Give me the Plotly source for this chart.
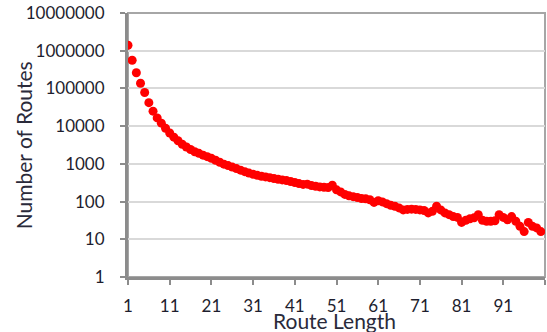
import plotly.graph_objects as go

route_length = list(range(1, 101))
num_routes = [
    1400000, 560000, 260000, 137000, 78000, 42000, 25000, 16500, 12000, 8800,
    6600, 5100, 4100, 3300, 2800, 2400, 2100, 1900, 1700, 1550,
    1400, 1250, 1100, 980, 900, 820, 750, 680, 620, 570,
    530, 495, 470, 450, 430, 410, 390, 375, 360, 340,
    320, 300, 285, 290, 265, 255, 245, 240, 235, 270,
    205, 180, 155, 142, 135, 128, 120, 118, 112, 95,
    105, 98, 88, 80, 75, 68, 60, 62, 63, 62,
    60, 58, 50, 55, 75, 60, 50, 45, 40, 38,
    28, 32, 35, 37, 45, 32, 30, 30, 31, 45,
    38, 33, 40, 30, 22, 16, 28, 22, 20, 16,
]
x_tickvals = [1, 11, 21, 31, 41, 51, 61, 71, 81, 91, 101]
x_ticktext = ["1", "11", "21", "31", "41", "51", "61", "71", "81", "91", ""]
y_tickvals = [1, 10, 100, 1000, 10000, 100000, 1000000, 10000000]
y_ticktext = ["1", "10", "100", "1000", "10000", "100000", "1000000", "10000000"]

FONT = "Lato"
TXT = "#1e1e2e"

fig = go.Figure()
fig.add_trace(go.Scatter(
    x=route_length, y=num_routes, mode="markers",
    marker=dict(color="#ff0000", size=9, line=dict(width=0)),
    showlegend=False,
))

fig.update_layout(
    width=547, height=332,
    margin=dict(l=128, r=2, t=13, b=55),
    paper_bgcolor="white", plot_bgcolor="white",
    font=dict(family=FONT, size=17, color=TXT),
    xaxis=dict(
        range=[1, 101], tickmode="array", tickvals=x_tickvals, ticktext=x_ticktext,
        showgrid=False, zeroline=False,
        showline=True, linecolor="#8c8c8c", linewidth=3,
        ticks="outside", ticklen=5, tickcolor="#8c8c8c", tickwidth=2,
        ticklabelstandoff=7, layer="below traces",
        tickfont=dict(family=FONT, size=17, color=TXT),
    ),
    yaxis=dict(
        type="log", range=[0, 7], tickmode="array", tickvals=y_tickvals, ticktext=y_ticktext,
        showgrid=True, gridcolor="#d9d9d9", gridwidth=2, zeroline=False,
        showline=True, linecolor="#8c8c8c", linewidth=3,
        ticks="outside", ticklen=5, tickcolor="#8c8c8c", tickwidth=2,
        ticklabelstandoff=12, layer="below traces",
        tickfont=dict(family=FONT, size=17, color=TXT),
    ),
    shapes=[dict(type="rect", xref="paper", yref="paper", x0=0, x1=1, y0=0, y1=1,
                 line=dict(color="#a6a6a6", width=2), layer="below")],
    annotations=[
        dict(text="Number of Routes", xref="paper", yref="paper", x=-0.251, y=0.5,
             xanchor="center", yanchor="middle", textangle=-90, showarrow=False,
             font=dict(family=FONT, size=21, color="#2a2a3a")),
        dict(text="Route Length", xref="paper", yref="paper", x=0.496, y=-0.163,
             xanchor="center", yanchor="middle", showarrow=False,
             font=dict(family=FONT, size=21, color="#2a2a3a")),
    ],
)

fig.write_html("out.html")
